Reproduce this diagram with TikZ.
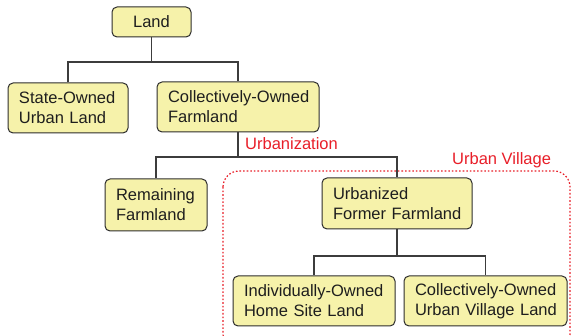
\documentclass[tikz,border=0pt]{standalone}
\usepackage{fontspec}
\setmainfont{Liberation Sans}
\usetikzlibrary{calc}
\definecolor{boxfill}{RGB}{246,242,170}
\definecolor{boxdraw}{RGB}{45,45,45}
\definecolor{linecol}{RGB}{60,60,60}
\definecolor{redtxt}{RGB}{232,30,40}
\definecolor{txt}{RGB}{30,30,30}
\tikzset{
  box/.style={draw=boxdraw, fill=boxfill, line width=1pt, rounded corners=5pt,
    inner xsep=11pt, inner ysep=0pt, align=left, text=txt,
    font=\fontsize{16.5}{20}\selectfont},
  conn/.style={draw=linecol, line width=1.2pt},
  redlabel/.style={text=redtxt, font=\fontsize{16.5}{20}\selectfont, inner sep=0pt},
  village/.style={draw=redtxt, line width=1.2pt, dash pattern=on 1.6pt off 2pt, rounded corners=16pt}
}
\begin{document}
\begin{tikzpicture}[x=1pt,y=-1pt]
\useasboundingbox (0,0) rectangle (571,336);
\begin{scope}
\clip (0,0) rectangle (571,336);
\draw[village] (223,171) rectangle (570,350);
\end{scope}
\node[box, minimum width=79pt, minimum height=30pt, align=center] (land) at (151.5,22) {Land};
\node[box, minimum height=50pt, text width=98pt] (state) at (68,108) {\mbox{State-Owned}\\\mbox{Urban Land}};
\node[box, minimum height=50pt, text width=140pt] (cof) at (238,107) {\mbox{Collectively-Owned}\\\mbox{Farmland}};
\node[box, minimum height=52pt, text width=80pt] (rem) at (156,205) {\mbox{Remaining}\\\mbox{Farmland}};
\node[box, minimum height=51pt, text width=128pt] (urb) at (397,203.5) {\mbox{Urbanized}\\\mbox{Former Farmland}};
\node[box, minimum height=50pt, text width=140pt] (ind) at (314,301) {\mbox{Individually-Owned}\\\mbox{Home Site Land}};
\node[box, minimum height=50pt, text width=141pt] (cuv) at (485.5,301) {\mbox{Collectively-Owned}\\\mbox{Urban Village Land}};
\coordinate (j1) at (151.5,62);
\coordinate (j2) at (238,157);
\coordinate (j3) at (397,256);
\draw[conn] (land.south) -- (j1);
\draw[conn] (state.north) |- (j1) -| (cof.north);
\draw[conn] (cof.south) -- (j2);
\draw[conn] (rem.north) |- (j2) -| (urb.north);
\draw[conn] (urb.south) -- (j3);
\draw[conn] (ind.north) |- (j3) -| (cuv.north);
\node[redlabel, anchor=west] (urbz) at (245,144) {Urbanization};
\node[redlabel, anchor=west] (uv) at (452,160) {Urban Village};
\end{tikzpicture}
\end{document}
